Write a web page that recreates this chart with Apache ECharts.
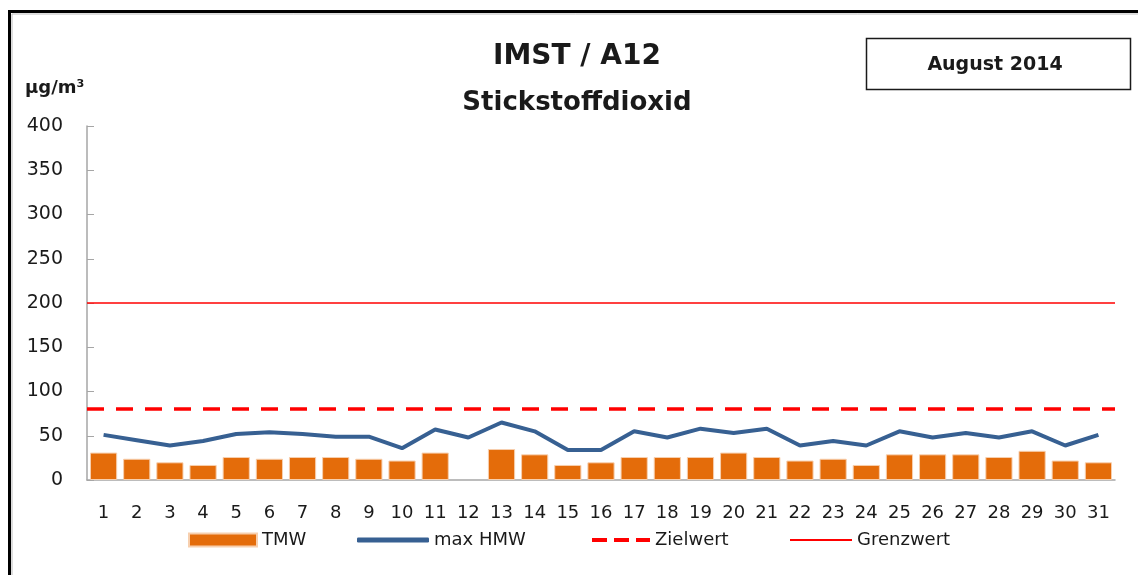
<!DOCTYPE html>
<html>
<head>
<meta charset="utf-8">
<script src="https://cdn.jsdelivr.net/npm/echarts@6/dist/echarts.min.js"></script>
<style>
html,body{margin:0;padding:0;background:#fff;}
#chart{width:1138px;height:575px;}
</style>
</head>
<body>
<div id="chart"></div>
<script>
var days = ['1','2','3','4','5','6','7','8','9','10','11','12','13','14','15','16','17','18','19','20','21','22','23','24','25','26','27','28','29','30','31'];
var tmw = [31,24,20,17,26,24,26,26,24,22,31,null,35,29,17,20,26,26,26,31,26,22,24,17,29,29,29,26,33,22,20];
var maxHmw = [51,45,39,44,52,54,52,49,49,36,57,48,65,55,34,34,55,48,58,53,58,39,44,39,55,48,53,48,55,39,51];
var zielwert = 80;
var grenzwert = 200;
var yTicks = [0,50,100,150,200,250,300,350,400];

var FONT = '"DejaVu Sans", sans-serif';
var TXT = '#1a1a1a';
var legendText = {fontSize:18,color:TXT,fontFamily:FONT,lineHeight:22};
function mkLegend(name, left, w, h, icon){
  return {data:[name], left:left, top:529, padding:0,
          itemWidth:w, itemHeight:h, icon:icon, textStyle:legendText};
}
var chart = echarts.init(document.getElementById('chart'), null, {renderer:'canvas'});
chart.setOption({
  animation:false,
  backgroundColor:'#fff',
  textStyle:{fontFamily:FONT},
  grid:{left:87,right:23,top:126,bottom:95,containLabel:false},
  legend:[
    mkLegend('TMW',188,68,13,'rect'),
    mkLegend('max HMW',357,72,5,'roundRect'),
    mkLegend('Zielwert',592,58,4,'path://M0,0h15v4h-15z M22,0h15v4h-15z M44,0h14v4h-14z'),
    mkLegend('Grenzwert',790,62,2,'rect')
  ],
  xAxis:{
    type:'category', data:days,
    axisTick:{show:false},
    axisLine:{lineStyle:{color:'#A6A6A6',width:1.5}},
    axisLabel:{interval:0,fontSize:18,color:TXT,margin:24,fontFamily:FONT}
  },
  yAxis:{
    type:'value', min:yTicks[0], max:yTicks[yTicks.length-1], interval:50,
    axisLine:{show:true,lineStyle:{color:'#A6A6A6',width:1.5}},
    axisTick:{show:true,inside:true,length:7,lineStyle:{color:'#A6A6A6'}},
    splitLine:{show:false},
    axisLabel:{fontSize:19,color:TXT,margin:24,fontFamily:FONT}
  },
  series:[
    {name:'TMW',type:'bar',data:tmw,barCategoryGap:'18%',
     itemStyle:{color:'#E46C0A',borderColor:'#F7CFAE',borderWidth:1}},
    {name:'max HMW',type:'line',data:maxHmw,symbol:'none',smooth:false,
     lineStyle:{color:'#376092',width:4},itemStyle:{color:'#376092'}},
    {name:'Zielwert',type:'line',data:[],symbol:'none',
     lineStyle:{color:'#FF0000',width:3.5,type:[17,12]},itemStyle:{color:'#FF0000'},
     markLine:{silent:true,symbol:['none','none'],label:{show:false},
       lineStyle:{color:'#FF0000',width:3.5,type:[17,12]},
       data:[{yAxis:zielwert}]}},
    {name:'Grenzwert',type:'line',data:[],symbol:'none',
     lineStyle:{color:'#FF0000',width:1.5,type:'solid'},itemStyle:{color:'#FF0000'},
     markLine:{silent:true,symbol:['none','none'],label:{show:false},
       lineStyle:{color:'#FF0000',width:1.5,type:'solid'},
       data:[{yAxis:grenzwert}]}}
  ],
  graphic:[
    {type:'rect',shape:{x:9.5,y:11.5,width:1200,height:600},
     style:{fill:'none',stroke:'#000',lineWidth:3},z:100},
    {type:'rect',shape:{x:12,y:14,width:1200,height:600},
     style:{fill:'none',stroke:'#BBBBBB',lineWidth:1},z:100},
    {type:'text',x:577,y:57,
     style:{text:'IMST / A12',font:'bold 28px '+FONT,fill:TXT,textAlign:'center',textVerticalAlign:'middle'}},
    {type:'text',x:577,y:103,
     style:{text:'Stickstoffdioxid',font:'bold 26px '+FONT,fill:TXT,textAlign:'center',textVerticalAlign:'middle'}},
    {type:'text',x:25,y:88,
     style:{text:'μg/m³',font:'bold 18px '+FONT,fill:TXT,textVerticalAlign:'middle'}},
    {type:'rect',shape:{x:866.5,y:38.5,width:264,height:51},
     style:{fill:'#fff',stroke:'#1a1a1a',lineWidth:1.5}},
    {type:'text',x:995,y:65,
     style:{text:'August 2014',font:'bold 19px '+FONT,fill:TXT,textAlign:'center',textVerticalAlign:'middle'}}
  ]
});
</script>
</body>
</html>
